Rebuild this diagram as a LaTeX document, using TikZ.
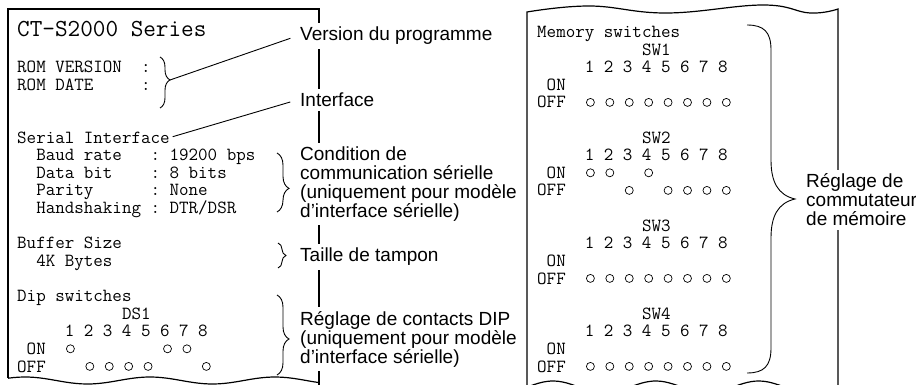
\documentclass[tikz,border=0pt]{standalone}
\usepackage{fontspec}
\usepackage{tikz}
\usetikzlibrary{decorations.pathreplacing}
\newfontfamily\labelfont{Liberation Sans}

\begin{document}
\begin{tikzpicture}[x=1pt,y=-1pt,
    prt/.style={anchor=base west,inner sep=0pt,font=\ttfamily\fontsize{18.5}{17.6}\selectfont},
    lbl/.style={anchor=west,fill=white,inner xsep=3pt,inner ysep=4pt,align=left,
      font=\labelfont\fontsize{19}{19}\selectfont},
    paper/.style={line width=1.2pt},
    brc/.style={decorate,decoration={brace,amplitude=#1},line width=0.9pt},
    dot/.style={line width=0.7pt}]
  \useasboundingbox (0,0) rectangle (916,385);
  \draw[paper] (8,378.2) -- (8,9) -- (319,9) -- (319,385);
  \draw[paper,domain=8:319,samples=60] plot (\x,{380.5-3.5*cos(2.88*(\x-150))});
  \draw[paper] (527,385) -- plot[smooth,tension=0.7] coordinates {(527,12) (590,6) (667,13) (763,5) (810,13) (838,9)} -- (838,385);
  \begin{scope}
    \clip (520,0) rectangle (845,385);
    \draw[paper,domain=527:838,samples=80] plot (\x,{387-6*cos(3.5*(\x-553))});
  \end{scope}

  \node[prt,font=\ttfamily\fontsize{24.5}{24}\selectfont] (title) at (17,36.5) {CT-S2000~Series};
  \node[prt] (romv) at (17,72.8) {ROM~VERSION~~:};
  \node[prt] (romd) at (17,90.4) {ROM~DATE~~~~~:};
  \node[prt] (serial) at (17,143.2) {Serial~Interface};
  \node[prt] (baud) at (17,160.8) {~~Baud~rate~~~:~19200~bps};
  \node[prt] (dbit) at (17,178.4) {~~Data~bit~~~~:~8~bits};
  \node[prt] (par) at (17,196) {~~Parity~~~~~~:~None};
  \node[prt] (hand) at (17,213.6) {~~Handshaking~:~DTR/DSR};
  \node[prt] (buf) at (17,248.8) {Buffer~Size};
  \node[prt] (kb) at (17,266.4) {~~4K~Bytes};
  \node[prt] (dip) at (17,301.6) {Dip~switches};
  \node[prt] (ds) at (17,319.2) {~~~~~~~~~~~DS1};
  \node[prt] (dsn) at (17,336.8) {~~~~~1~2~3~4~5~6~7~8};
  \node[prt] (dson) at (17,354.4) {~ON};
  \node[prt] (dsoff) at (17,372) {OFF};
  \foreach \s [count=\k] in {1,0,0,0,0,1,1,0}
    \draw[dot] ({17+(3.5+2*\k)*9.71},{366.4-17.6*\s}) circle[radius=4pt];

  \node[prt] (mem) at (537,37.6) {Memory~switches};
  \foreach \n in {1,...,4} {
    \node[prt] (swh\n) at (537,{55.2+88*(\n-1)}) {~~~~~~~~~~~SW\n};
    \node[prt] (swn\n) at (537,{72.8+88*(\n-1)}) {~~~~~1~2~3~4~5~6~7~8};
    \node[prt] (swon\n) at (537,{90.4+88*(\n-1)}) {~ON};
    \node[prt] (swoff\n) at (537,{108+88*(\n-1)}) {OFF};
  }
  \foreach \n/\st in {1/{0,0,0,0,0,0,0,0},2/{1,1,0,1,0,0,0,0},3/{0,0,0,0,0,0,0,0},4/{0,0,0,0,0,0,0,0}}
    \foreach \s [count=\k] in \st
      \draw[dot] ({537+(3.5+2*\k)*9.71},{102.4+88*(\n-1)-17.6*\s}) circle[radius=4pt];

  \draw[brc=10,decoration={aspect=0.45}] (160,57) -- (160,108);
  \coordinate (romtip) at (170,80);
  \draw[brc=12,decoration={aspect=0.6}] (277,153) -- (277,212);
  \draw[brc=8] (278,243) -- (278,268);
  \draw[brc=12,decoration={aspect=0.55}] (277,295) -- (277,375);
  \draw[line width=0.9pt] (747,25) .. controls (764,25) and (771,32) .. (771,50) -- (771,160)
    .. controls (771,182) and (778,195) .. (795,199) .. controls (778,203) and (771,216) .. (771,238)
    -- (771,348) .. controls (771,366) and (764,373) .. (747,373);

  \node[lbl] (ver) at (297,36) {Version du programme};
  \node[lbl] (intf) at (297,100) {Interface};
  \node[lbl] (cond) at (297,184) {Condition de\\communication sérielle\\(uniquement pour modèle\\d’interface sérielle)};
  \node[lbl] (taille) at (297,257) {Taille de tampon};
  \node[lbl] (dipl) at (297,339) {Réglage de contacts DIP\\(uniquement pour modèle\\d’interface sérielle)};
  \node[lbl] (memsw) at (803,200) {Réglage de\\commutateur\\de mémoire};

  \draw[line width=0.9pt,shorten >=7pt] (romtip) -- (ver.west);
  \draw[line width=0.9pt,shorten <=3pt,shorten >=7pt] (serial.east) -- (intf.west);
\end{tikzpicture}
\end{document}
